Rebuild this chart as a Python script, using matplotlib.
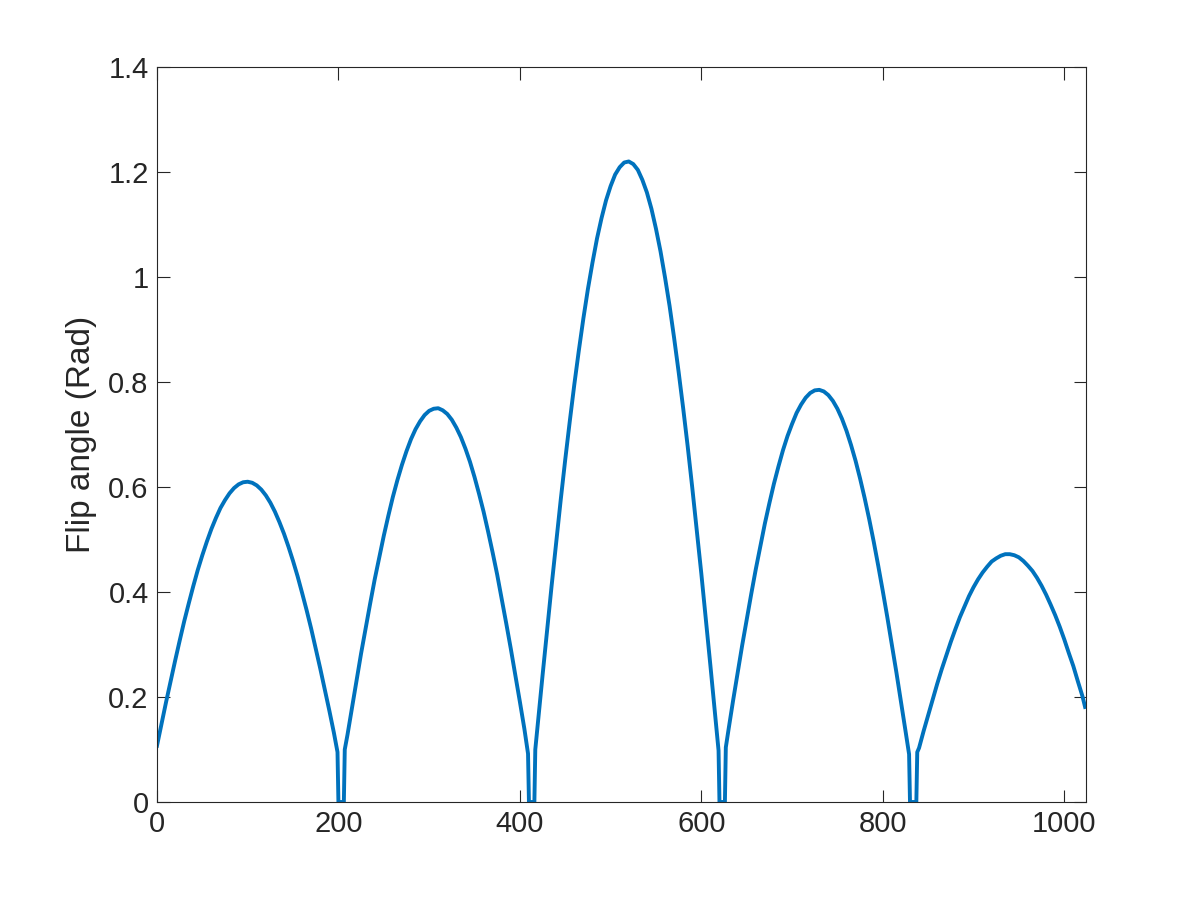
import numpy as np
import matplotlib
matplotlib.use("Agg")
import matplotlib.pyplot as plt
from matplotlib.ticker import FuncFormatter

# flip angle, one list per lobe; samples between lobes are zero
lobe1_x = [0, 5, 10, 15, 20, 25, 30, 35, 40, 45, 50, 55, 60, 65, 70, 75, 80, 85, 90, 95,
           100, 105, 110, 115, 120, 125, 130, 135, 140, 145, 150, 155, 160, 165, 170, 175,
           180, 185, 190, 195, 199]
lobe1_y = [0.107, 0.149, 0.190, 0.230, 0.269, 0.307, 0.344, 0.378, 0.411, 0.442, 0.470,
           0.496, 0.520, 0.541, 0.560, 0.575, 0.588, 0.598, 0.605, 0.609,
           0.610, 0.608, 0.603, 0.595, 0.584, 0.570, 0.553, 0.533, 0.511, 0.486, 0.459,
           0.430, 0.398, 0.365, 0.330, 0.292, 0.254, 0.214, 0.174, 0.132, 0.095]
gap1_x = [200, 206]

lobe2_x = [207, 210, 215, 220, 225, 230, 235, 240, 245, 250, 255, 260, 265, 270, 275, 280,
           285, 290, 295, 300, 305, 310, 315, 320, 325, 330, 335, 340, 345, 350, 355, 360,
           365, 370, 375, 380, 385, 390, 395, 400, 405, 409]
lobe2_y = [0.100, 0.128, 0.180, 0.232, 0.283, 0.331, 0.378, 0.424, 0.466, 0.507, 0.545,
           0.581, 0.613, 0.642, 0.668, 0.691, 0.710, 0.725, 0.737, 0.745, 0.749, 0.750,
           0.746, 0.739, 0.728, 0.713, 0.695, 0.673, 0.648, 0.619, 0.587, 0.553, 0.515,
           0.475, 0.433, 0.387, 0.340, 0.292, 0.242, 0.191, 0.139, 0.092]
gap2_x = [410, 416]

lobe3_x = [417, 420, 425, 430, 435, 440, 445, 450, 455, 460, 465, 470, 475, 480, 485, 490,
           495, 500, 505, 510, 515, 520, 525, 530, 535, 540, 545, 550, 555, 560, 565, 570,
           575, 580, 585, 590, 595, 600, 605, 610, 615, 619]
lobe3_y = [0.100, 0.153, 0.241, 0.327, 0.412, 0.494, 0.575, 0.652, 0.725, 0.795, 0.860,
           0.921, 0.977, 1.027, 1.073, 1.112, 1.146, 1.173, 1.195, 1.209, 1.218, 1.220,
           1.215, 1.204, 1.185, 1.161, 1.130, 1.092, 1.049, 0.999, 0.945, 0.884, 0.819,
           0.750, 0.677, 0.599, 0.517, 0.435, 0.348, 0.260, 0.170, 0.098]
gap3_x = [620, 626]

lobe4_x = [627, 630, 635, 640, 645, 650, 655, 660, 665, 670, 675, 680, 685, 690, 695, 700,
           705, 710, 715, 720, 725, 730, 735, 740, 745, 750, 755, 760, 765, 770, 775, 780,
           785, 790, 795, 800, 805, 810, 815, 820, 825, 829]
lobe4_y = [0.104, 0.138, 0.193, 0.245, 0.298, 0.347, 0.396, 0.443, 0.487, 0.530, 0.569,
           0.606, 0.639, 0.670, 0.697, 0.720, 0.741, 0.757, 0.770, 0.779, 0.784, 0.785,
           0.782, 0.775, 0.764, 0.749, 0.730, 0.707, 0.680, 0.650, 0.616, 0.579, 0.539,
           0.496, 0.450, 0.402, 0.352, 0.300, 0.247, 0.192, 0.136, 0.091]
gap4_x = [830, 837]

lobe5_x = [838, 840, 845, 850, 855, 860, 865, 870, 875, 880, 885, 890, 895, 900, 905, 910,
           915, 920, 925, 930, 935, 940, 945, 950, 955, 960, 965, 970, 975, 980, 985, 990,
           995, 1000, 1005, 1010, 1015, 1020, 1023]
lobe5_y = [0.095, 0.103, 0.135, 0.165, 0.195, 0.225, 0.253, 0.279, 0.305, 0.329, 0.352,
           0.372, 0.392, 0.409, 0.424, 0.437, 0.448, 0.458, 0.464, 0.469, 0.472, 0.472,
           0.470, 0.466, 0.459, 0.450, 0.440, 0.427, 0.412, 0.395, 0.376, 0.356, 0.334,
           0.310, 0.284, 0.259, 0.230, 0.202, 0.181]

x = (lobe1_x + gap1_x + lobe2_x + gap2_x + lobe3_x + gap3_x + lobe4_x + gap4_x + lobe5_x)
y = (lobe1_y + [0, 0] + lobe2_y + [0, 0] + lobe3_y + [0, 0] + lobe4_y + [0, 0] + lobe5_y)

plt.rcParams['font.family'] = ['Liberation Sans', 'DejaVu Sans']
text_col = '#262626'

fig = plt.figure(figsize=(12, 9), dpi=100)
ax = fig.add_axes([0.1308, 0.1089, 0.7742, 0.8167])
ax.plot(x, y, color='#0072BD', linewidth=2.8)

ax.set_xlim(0, 1024)
ax.set_ylim(0, 1.4)
ax.set_xticks([0, 200, 400, 600, 800, 1000])
ax.set_yticks(np.arange(0, 1.41, 0.2))
ax.yaxis.set_major_formatter(FuncFormatter(lambda v, p: f"{v:g}"))
ax.set_ylabel('Flip angle (Rad)', fontsize=24, color=text_col, labelpad=8)

ax.tick_params(direction='in', length=9, width=0.8, top=True, right=True,
               labelsize=21, colors=text_col, pad=6)
for s in ax.spines.values():
    s.set_color(text_col)
    s.set_linewidth(0.8)

fig.savefig('out.png', dpi=100)
